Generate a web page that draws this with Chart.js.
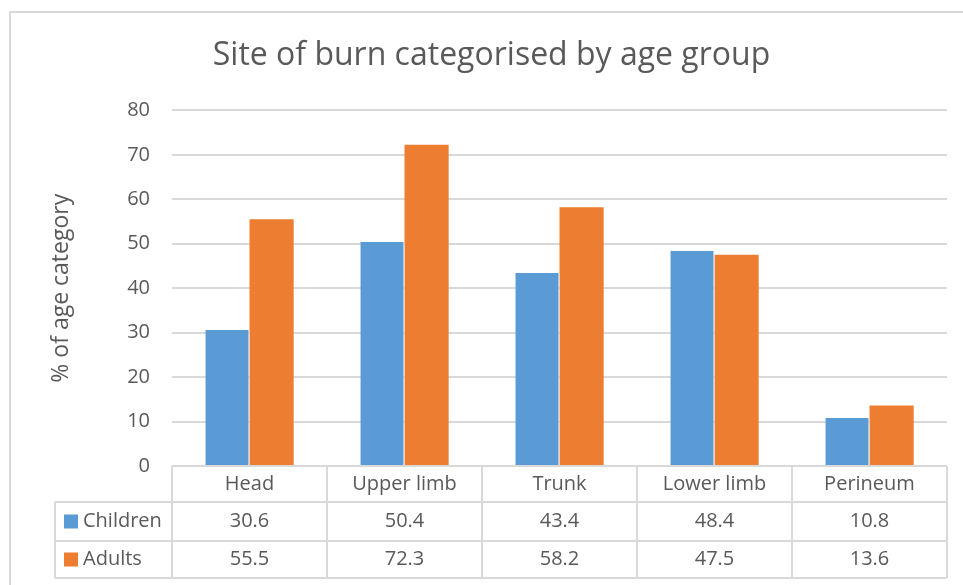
<!DOCTYPE html>
<html>
<head>
<meta charset="utf-8">
<script src="https://cdn.jsdelivr.net/npm/chart.js@4.4.1/dist/chart.umd.min.js"></script>
<style>
  html, body { margin: 0; padding: 0; background: #fff; }
  #wrap { width: 963px; height: 585px; position: relative; }
</style>
</head>
<body>
<div id="wrap"><canvas id="burnChart" width="963" height="585"></canvas></div>
<script>
// Site of burn by age group — bar chart with an Excel-style data table below

const CATEGORIES = ['Head', 'Upper limb', 'Trunk', 'Lower limb', 'Perineum'];
const CHILDREN = [30.6, 50.4, 43.4, 48.4, 10.8];
const ADULTS = [55.5, 72.3, 58.2, 47.5, 13.6];
const Y_TICKS = [0, 10, 20, 30, 40, 50, 60, 70, 80];

const COLORS = {
  blue: '#5B9BD5',
  orange: '#ED7D31',
  text: '#595959',
  grid: '#D9D9D9',
  frame: '#D9D9D9',
};
const FONT = "'Open Sans', 'DejaVu Sans', sans-serif";

// ── Plugins ───────────────────────────────────────────────

// light frame round the whole chart
const framePlugin = {
  id: 'frame',
  beforeDraw(chart) {
    const ctx = chart.ctx;
    ctx.save();
    ctx.fillStyle = '#fff';
    ctx.fillRect(0, 0, chart.width, chart.height);
    ctx.strokeStyle = COLORS.frame;
    ctx.lineWidth = 2;
    ctx.strokeRect(10, 12, chart.width + 20, chart.height + 20);
    ctx.restore();
  },
};

// data table under the plot, columns follow the x scale
const tablePlugin = {
  id: 'dataTable',
  afterDraw(chart) {
    const ctx = chart.ctx;
    const x = chart.scales.x;
    const area = chart.chartArea;
    const left = area.left, right = area.right;
    const top = area.bottom;
    const rowH = [36, 39, 37];
    const y1 = top + rowH[0], y2 = y1 + rowH[1], y3 = y2 + rowH[2];
    const legendLeft = 55;
    const colW = (right - left) / CATEGORIES.length;

    ctx.save();
    ctx.strokeStyle = COLORS.grid;
    ctx.lineWidth = 2;
    ctx.beginPath();
    ctx.moveTo(left, top); ctx.lineTo(right, top);
    [y1, y2, y3].forEach(y => { ctx.moveTo(legendLeft, y); ctx.lineTo(right, y); });
    for (let i = 0; i <= CATEGORIES.length; i++) {
      const cx = left + i * colW;
      ctx.moveTo(cx, top); ctx.lineTo(cx, y3);
    }
    ctx.moveTo(legendLeft, y1); ctx.lineTo(legendLeft, y3);
    ctx.stroke();

    ctx.fillStyle = COLORS.text;
    ctx.font = `20px ${FONT}`;
    ctx.textAlign = 'center';
    ctx.textBaseline = 'middle';
    CATEGORIES.forEach((c, i) => {
      const cx = x.getPixelForValue(i);
      ctx.fillText(c, cx, top + rowH[0] / 2);
      ctx.fillText(CHILDREN[i].toFixed(1), cx, y1 + rowH[1] / 2);
      ctx.fillText(ADULTS[i].toFixed(1), cx, y2 + rowH[2] / 2);
    });

    // series keys
    const rows = [
      { label: 'Children', color: COLORS.blue, y: y1 + rowH[1] / 2 },
      { label: 'Adults', color: COLORS.orange, y: y2 + rowH[2] / 2 },
    ];
    ctx.textAlign = 'left';
    rows.forEach(r => {
      ctx.fillStyle = r.color;
      ctx.fillRect(64, r.y - 7, 14, 14);
      ctx.fillStyle = COLORS.text;
      ctx.fillText(r.label, 83, r.y);
    });
    ctx.restore();
  },
};

// ── Chart ─────────────────────────────────────────────────

new Chart(document.getElementById('burnChart'), {
  type: 'bar',
  data: {
    labels: CATEGORIES,
    datasets: [{
      label: 'Children',
      data: CHILDREN,
      backgroundColor: COLORS.blue,
      borderColor: '#ffffff',
      borderWidth: { right: 1 },
    }, {
      label: 'Adults',
      data: ADULTS,
      backgroundColor: COLORS.orange,
      borderColor: '#ffffff',
      borderWidth: { left: 0 },
    }],
  },
  options: {
    responsive: false,
    animation: false,
    // left padding also nudges the title centre to the right, as in the original
    layout: { padding: { left: 36, right: 16, top: 0, bottom: 6 } },
    datasets: { bar: { categoryPercentage: 0.57, barPercentage: 1 } },
    plugins: {
      legend: { display: false },
      tooltip: { enabled: false },
      title: {
        display: true,
        text: 'Site of burn categorised by age group',
        color: COLORS.text,
        font: { family: FONT, size: 32, weight: 'normal' },
        padding: { top: 37, bottom: 35 },
      },
    },
    scales: {
      x: {
        grid: { display: false },
        border: { display: false },
        ticks: { display: false },
        afterFit(scale) { scale.height = 113; },
      },
      y: {
        min: 0,
        max: 80,
        afterBuildTicks(scale) { scale.ticks = Y_TICKS.map(v => ({ value: v })); },
        ticks: {
          color: COLORS.text,
          font: { family: FONT, size: 20 },
          padding: 22,
        },
        grid: { color: COLORS.grid, lineWidth: 2, drawTicks: false },
        border: { display: false },
        title: {
          display: true,
          text: '% of age category',
          color: COLORS.text,
          font: { family: FONT, size: 23 },
          padding: { top: 12, bottom: 0 },
        },
        afterFit(scale) { scale.width = 136; },
      },
    },
  },
  plugins: [framePlugin, tablePlugin],
});
</script>
</body>
</html>
